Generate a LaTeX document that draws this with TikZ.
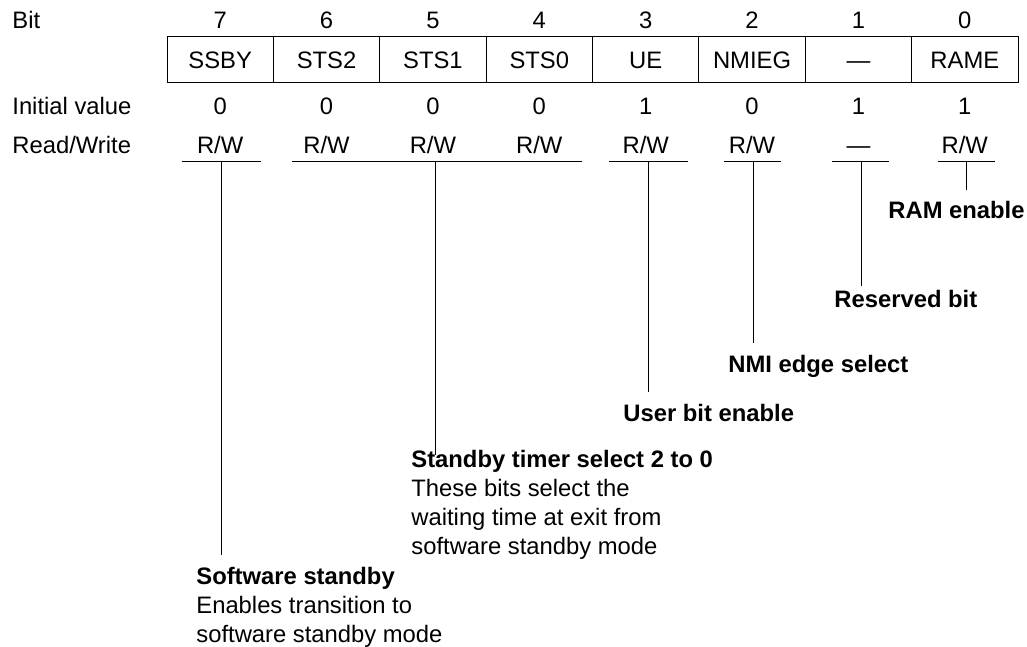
\documentclass[tikz,border=0pt]{standalone}
\usepackage{fontspec}
\setmainfont{Liberation Sans}
\begin{document}
\begin{tikzpicture}[x=0.5pt,y=-0.5pt,
  every node/.style={font=\fontsize{11.9}{14.5}\selectfont, inner sep=0pt},
  lbl/.style={anchor=base},
  rowlbl/.style={anchor=base west},
  cell/.style={draw, line width=0.5pt, minimum width=53.19pt, minimum height=23pt,
    text height=8.52pt, text depth=0pt, anchor=center},
  desc/.style={anchor=base west, align=left},
  ln/.style={line width=0.5pt}]
\useasboundingbox (0,0) rectangle (1027,647);

% row labels
\node[rowlbl] (lbit) at (12,29) {Bit};
\node[rowlbl] (linit) at (12,115) {Initial value};
\node[rowlbl] (lrw) at (12,153) {Read/Write};

% bit numbers
\node[lbl] (n7) at (220.19,29) {7};
\node[lbl] (n6) at (326.56,29) {6};
\node[lbl] (n5) at (432.94,29) {5};
\node[lbl] (n4) at (539.31,29) {4};
\node[lbl] (n3) at (645.69,29) {3};
\node[lbl] (n2) at (752.06,29) {2};
\node[lbl] (n1) at (858.44,29) {1};
\node[lbl] (n0) at (964.81,29) {0};

% register cells
\node[cell] (c7) at (220.19,60) {SSBY};
\node[cell] (c6) at (326.56,60) {STS2};
\node[cell] (c5) at (432.94,60) {STS1};
\node[cell] (c4) at (539.31,60) {STS0};
\node[cell] (c3) at (645.69,60) {UE};
\node[cell] (c2) at (752.06,60) {NMIEG};
\node[cell] (c1) at (858.44,60) {—};
\node[cell] (c0) at (964.81,60) {RAME};

% initial values
\node[lbl] (i7) at (220.19,115) {0};
\node[lbl] (i6) at (326.56,115) {0};
\node[lbl] (i5) at (432.94,115) {0};
\node[lbl] (i4) at (539.31,115) {0};
\node[lbl] (i3) at (645.69,115) {1};
\node[lbl] (i2) at (752.06,115) {0};
\node[lbl] (i1) at (858.44,115) {1};
\node[lbl] (i0) at (964.81,115) {1};

% read/write
\node[lbl] (r7) at (220.19,153) {R/W};
\node[lbl] (r6) at (326.56,153) {R/W};
\node[lbl] (r5) at (432.94,153) {R/W};
\node[lbl] (r4) at (539.31,153) {R/W};
\node[lbl] (r3) at (645.69,153) {R/W};
\node[lbl] (r2) at (752.06,153) {R/W};
\node[lbl] (r1) at (858.44,153) {—};
\node[lbl] (r0) at (964.81,153) {R/W};

% underline coordinates
\coordinate (u7a) at (182,161.5); \coordinate (u7b) at (261,161.5);
\coordinate (uSa) at (292,161.5); \coordinate (uSb) at (582,161.5);
\coordinate (u3a) at (609,161.5); \coordinate (u3b) at (688,161.5);
\coordinate (u2a) at (724,161.5); \coordinate (u2b) at (781,161.5);
\coordinate (u1a) at (832,161.5); \coordinate (u1b) at (889,161.5);
\coordinate (u0a) at (938,161.5); \coordinate (u0b) at (995,161.5);

\coordinate (v7) at (221,161.5); \coordinate (e7) at (221,555);
\coordinate (vS) at (435,161.5); \coordinate (eS) at (435,455);
\coordinate (v3) at (648,161.5); \coordinate (e3) at (648,392);
\coordinate (v2) at (753,161.5); \coordinate (e2) at (753,343);
\coordinate (v1) at (861,161.5); \coordinate (e1) at (861,286);
\coordinate (v0) at (966,161.5); \coordinate (e0) at (966,190);

\draw[ln] (u7a) -- (u7b);
\draw[ln] (uSa) -- (uSb);
\draw[ln] (u3a) -- (u3b);
\draw[ln] (u2a) -- (u2b);
\draw[ln] (u1a) -- (u1b);
\draw[ln] (u0a) -- (u0b);

\draw[ln] (v7) -- (e7);
\draw[ln] (vS) -- (eS);
\draw[ln] (v3) -- (e3);
\draw[ln] (v2) -- (e2);
\draw[ln] (v1) -- (e1);
\draw[ln] (v0) -- (e0);

% descriptions (base anchor = baseline of the last line)
\node[desc] (d0) at (888,218) {\textbf{RAM enable}};
\node[desc] (d1) at (834,307) {\textbf{Reserved bit}};
\node[desc] (d2) at (728,372) {\textbf{NMI edge select}};
\node[desc] (d3) at (623,421) {\textbf{User bit enable}};
\node[desc] (dS) at (411,554) {\textbf{Standby timer select 2 to 0}\\These bits select the\\waiting time at exit from\\software standby mode};
\node[desc] (d7) at (196,642) {\textbf{Software standby}\\Enables transition to\\software standby mode};
\end{tikzpicture}
\end{document}
